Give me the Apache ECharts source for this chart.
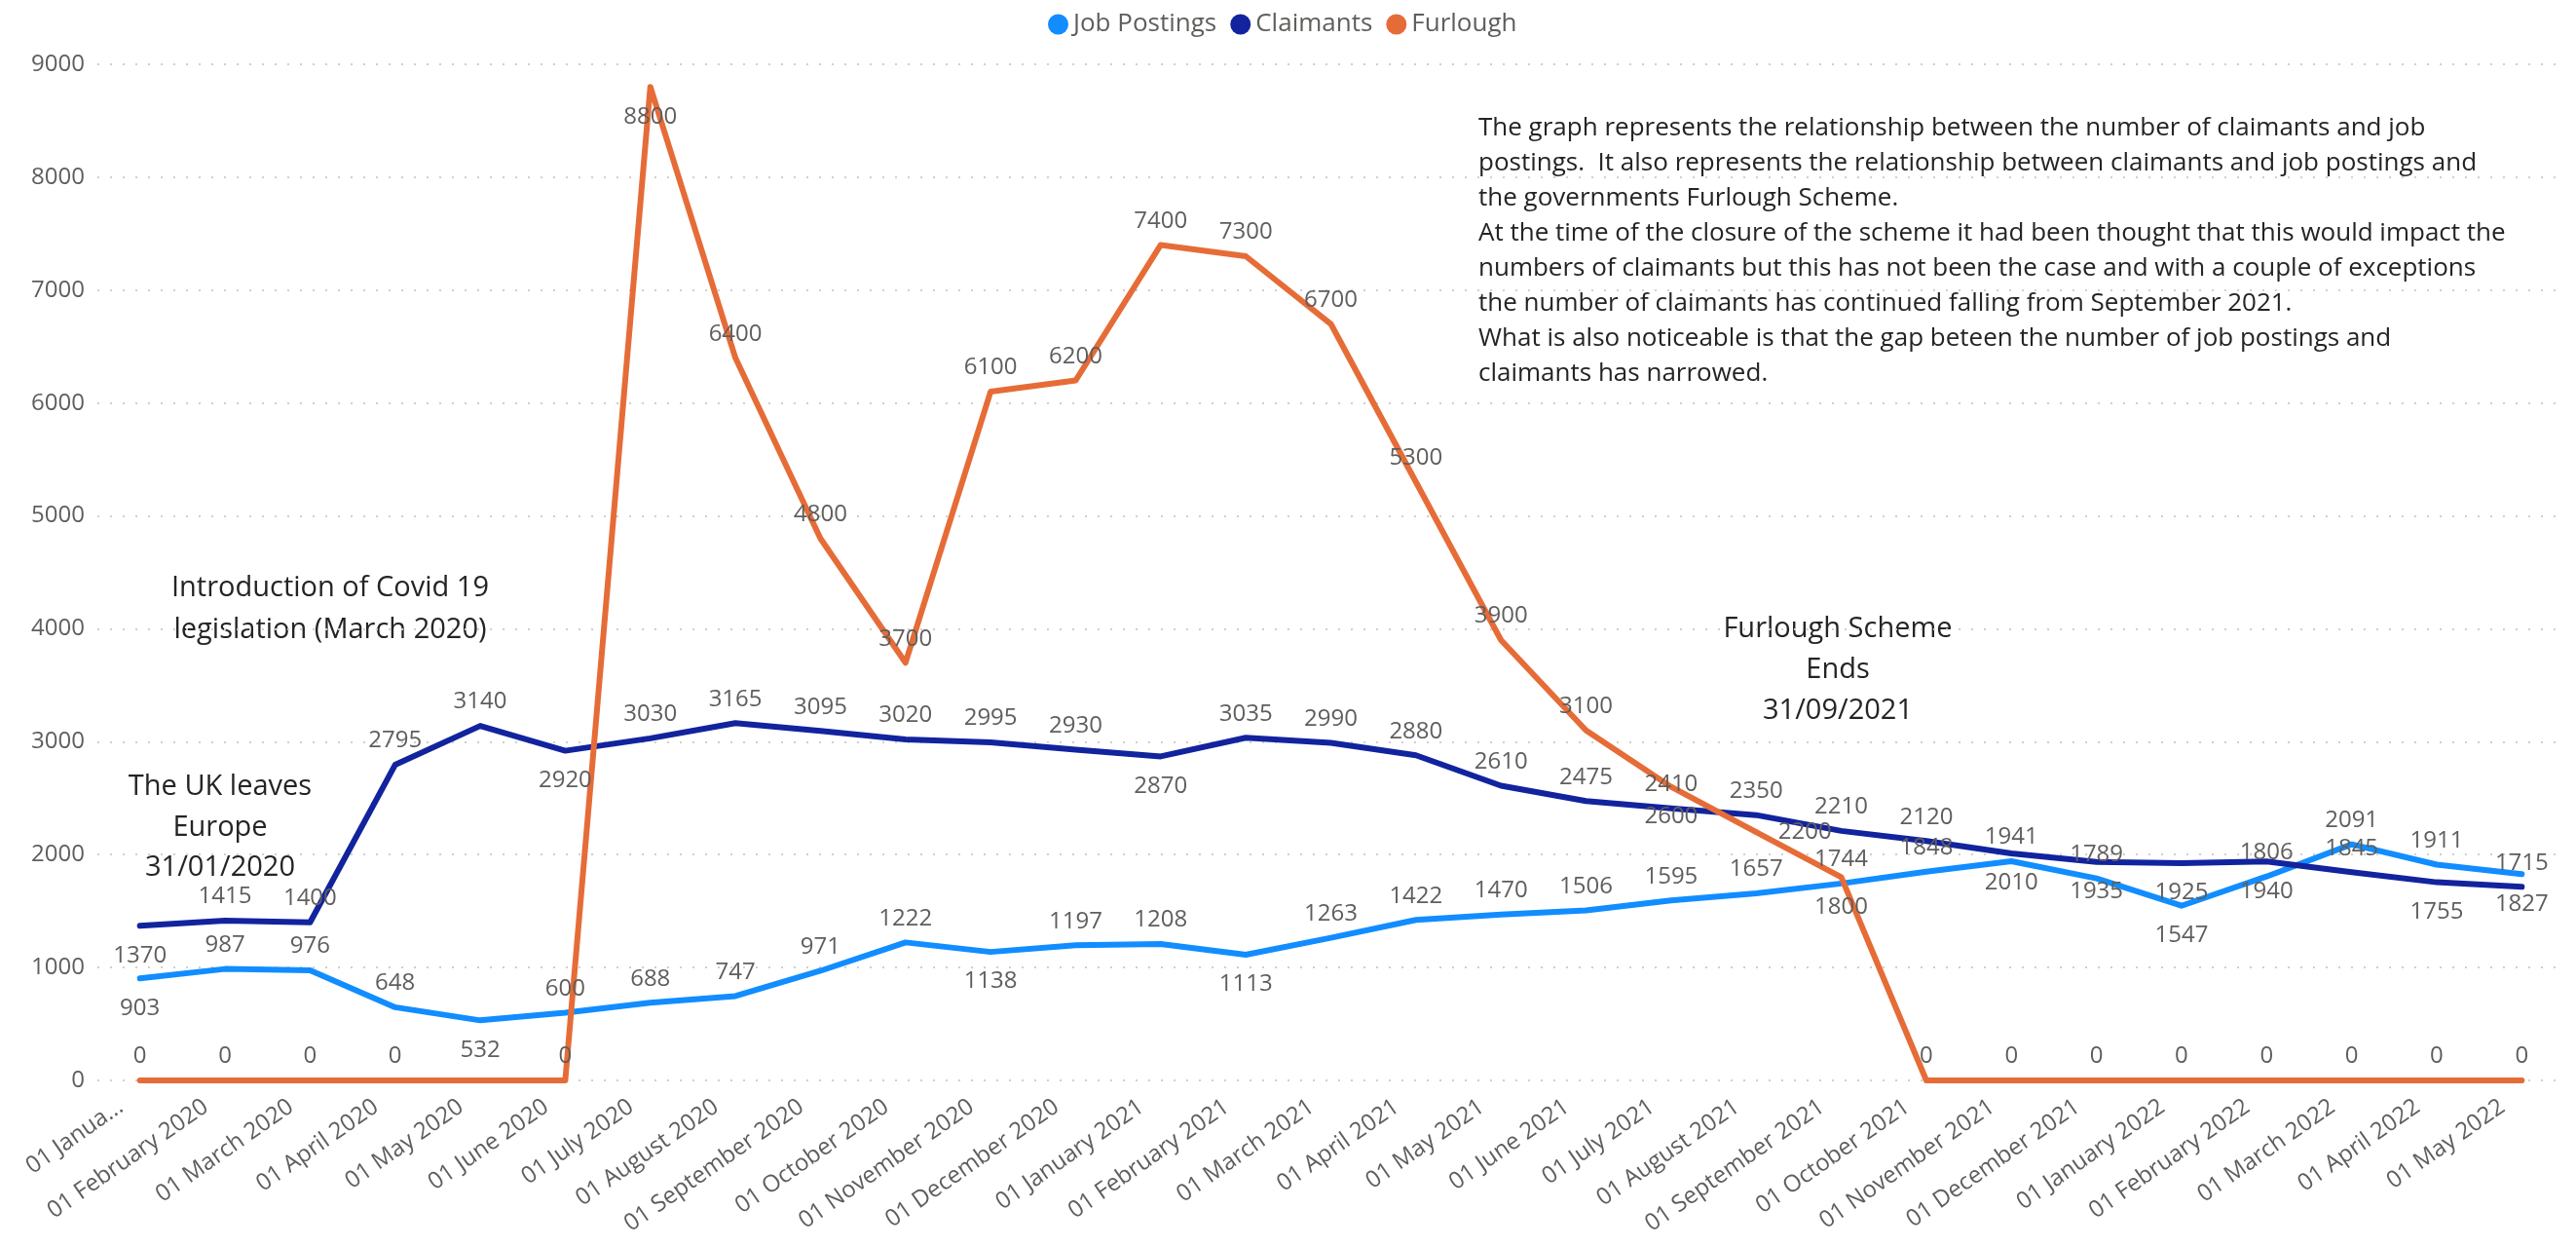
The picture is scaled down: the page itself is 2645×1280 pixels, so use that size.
<!DOCTYPE html>
<html>
<head>
<meta charset="utf-8">
<title>Job Postings, Claimants and Furlough</title>
<script src="https://cdn.jsdelivr.net/npm/echarts@6/dist/echarts.min.js"></script>
<style>
  html, body { margin: 0; padding: 0; background: #ffffff; }
  #chart { width: 2645px; height: 1280px; }
</style>
</head>
<body>
<div id="chart"></div>
<script>
// Monthly snapshot dates
const months = [
  '01 January 2020', '01 February 2020', '01 March 2020', '01 April 2020', '01 May 2020',
  '01 June 2020', '01 July 2020', '01 August 2020', '01 September 2020', '01 October 2020',
  '01 November 2020', '01 December 2020', '01 January 2021', '01 February 2021', '01 March 2021',
  '01 April 2021', '01 May 2021', '01 June 2021', '01 July 2021', '01 August 2021',
  '01 September 2021', '01 October 2021', '01 November 2021', '01 December 2021', '01 January 2022',
  '01 February 2022', '01 March 2022', '01 April 2022', '01 May 2022'
];

const jobPostings = [
  903, 987, 976, 648, 532, 600, 688, 747, 971, 1222,
  1138, 1197, 1208, 1113, 1263, 1422, 1470, 1506, 1595, 1657,
  1744, 1848, 1941, 1789, 1547, 1806, 2091, 1911, 1827
];

const claimants = [
  1370, 1415, 1400, 2795, 3140, 2920, 3030, 3165, 3095, 3020,
  2995, 2930, 2870, 3035, 2990, 2880, 2610, 2475, 2410, 2350,
  2210, 2120, 2010, 1935, 1925, 1940, 1845, 1755, 1715
];

const furlough = [
  0, 0, 0, 0, 0, 0, 8800, 6400, 4800, 3700,
  6100, 6200, 7400, 7300, 6700, 5300, 3900, 3100, 2600, 2200,
  1800, 0, 0, 0, 0, 0, 0, 0, 0
];

// Value axis range
const yMin = 0;
const yMax = 9000;
const yStep = 1000;

// Where each point's value label sits: T = above, B = below, R = to the right, N = hidden
const jobLabelSide      = 'BTTTBTTTTTBTTBTTTTTTTTTTBTTTB';
const claimantLabelSide = 'BTTTTBTTTTTTBTTTTTTTTTBBBBTBT';
const furloughLabelSide = 'TTTTNTBTTTTTTTTTTTBRBTTTTTTTT';

const FONT = '"Open Sans", "Noto Sans", sans-serif';
const GREY = '#605e5c';
const COLORS = { job: '#118dff', claimants: '#12239e', furlough: '#e66c37' };

function labelFor(side) {
  if (side === 'B') return { position: 'bottom', distance: 18 };
  if (side === 'R') return { position: 'right', distance: 22 };
  if (side === 'N') return { show: false };
  return { position: 'top', distance: 12 };
}

function withLabels(values, sides) {
  return values.map((v, i) => ({ value: v, label: labelFor(sides[i]) }));
}

function lineSeries(name, values, sides, color) {
  return {
    name: name,
    type: 'line',
    data: withLabels(values, sides),
    symbol: 'circle',
    symbolSize: 1,
    showSymbol: true,
    itemStyle: { color: color },
    lineStyle: { color: color, width: 6, cap: 'round', join: 'round' },
    label: { show: true, color: GREY, fontSize: 24, fontFamily: FONT },
    emphasis: { disabled: true }
  };
}

const chart = echarts.init(document.getElementById('chart'), null, { renderer: 'canvas' });

const annotationStyle = { fill: '#252423', fontSize: 29, fontFamily: FONT, textAlign: 'center' };

chart.setOption({
  animation: false,
  backgroundColor: '#ffffff',
  legend: {
    top: 7,
    left: 1071,
    icon: 'circle',
    itemWidth: 21,
    itemHeight: 21,
    itemGap: 14,
    textStyle: { color: GREY, fontSize: 26, fontFamily: FONT },
    data: ['Job Postings', 'Claimants', 'Furlough']
  },
  grid: { left: 100, right: 12, top: 66, bottom: 171, containLabel: false },
  xAxis: {
    type: 'category',
    data: months,
    boundaryGap: true,
    axisLine: { show: false },
    axisTick: { show: false },
    axisLabel: {
      interval: 0,
      rotate: 35,
      margin: 11,
      padding: [0, 24, 0, 0],
      color: GREY,
      fontSize: 24,
      fontFamily: FONT,
      formatter: (v, i) => (i === 0 ? v.slice(0, 8) + '...' : v)
    }
  },
  yAxis: {
    type: 'value',
    min: yMin,
    max: yMax,
    interval: yStep,
    axisLine: { show: false },
    axisTick: { show: false },
    axisLabel: { margin: 13, color: GREY, fontSize: 24, fontFamily: FONT, formatter: (v) => String(v) },
    splitLine: { lineStyle: { color: '#cfcfcf', width: 2, type: [2, 11] } }
  },
  series: [
    lineSeries('Job Postings', jobPostings, jobLabelSide, COLORS.job),
    lineSeries('Claimants', claimants, claimantLabelSide, COLORS.claimants),
    lineSeries('Furlough', furlough, furloughLabelSide, COLORS.furlough)
  ],
  graphic: [
    {
      type: 'text', x: 339, y: 582,
      style: Object.assign({ text: 'Introduction of Covid 19\nlegislation (March 2020)', lineHeight: 43 }, annotationStyle)
    },
    {
      type: 'text', x: 226, y: 787,
      style: Object.assign({ text: 'The UK leaves\nEurope\n31/01/2020', lineHeight: 41.5 }, annotationStyle)
    },
    {
      type: 'text', x: 1887, y: 625,
      style: Object.assign({ text: 'Furlough Scheme\nEnds\n31/09/2021', lineHeight: 42 }, annotationStyle)
    },
    {
      type: 'text', x: 1518, y: 114,
      style: {
        text: [
          'The graph represents the relationship between the number of claimants and job',
          'postings.  It also represents the relationship between claimants and job postings and',
          'the governments Furlough Scheme.',
          'At the time of the closure of the scheme it had been thought that this would impact the',
          'numbers of claimants but this has not been the case and with a couple of exceptions',
          'the number of claimants has continued falling from September 2021.',
          'What is also noticeable is that the gap beteen the number of job postings and',
          'claimants has narrowed.'
        ].join('\n'),
        fill: '#252423',
        fontSize: 26,
        fontFamily: FONT,
        lineHeight: 36,
        textAlign: 'left'
      }
    }
  ]
});
</script>
</body>
</html>
